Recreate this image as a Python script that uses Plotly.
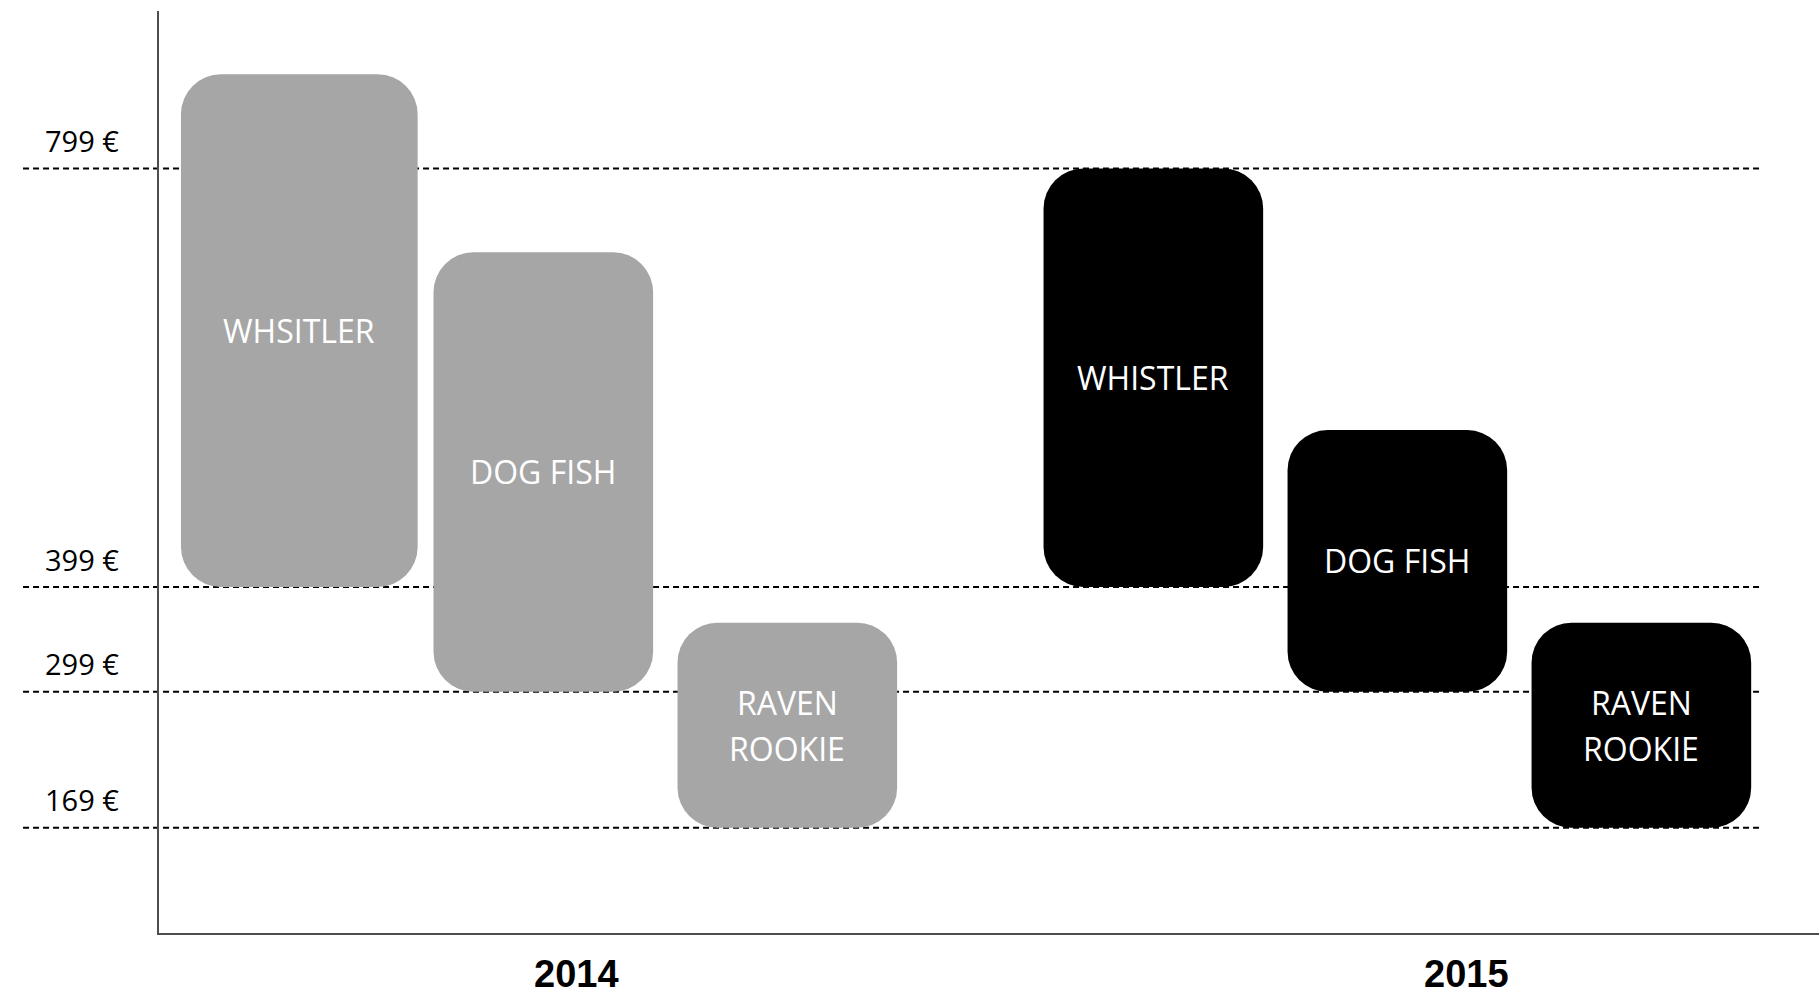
import plotly.graph_objects as go

# ---------------- data ----------------
years = ["2014", "2015"]
models_2014 = ["WHSITLER", "DOG FISH", "RAVEN<br>ROOKIE"]
models_2015 = ["WHISTLER", "DOG FISH", "RAVEN<br>ROOKIE"]
low_2014 = [399, 299, 169]
high_2014 = [889, 719, 365]
low_2015 = [399, 299, 169]
high_2015 = [799, 549, 365]
price_levels = [799, 399, 299, 169]
price_labels = ["799 €", "399 €", "299 €", "169 €"]

# ---------------- styling / layout ----------------
group_colors = ["#A6A6A6", "#000000"]
group_offset = 3.5
bar_widths = [[0.97, 0.9, 0.9], [0.9, 0.9, 0.9]]
radius = 40
axis_color = "#4d4d4d"
line_gap = 46  # px between lines of a two-line label

groups = [
    (models_2014, low_2014, high_2014),
    (models_2015, low_2015, high_2015),
]

fig = go.Figure()
annotations = []
for g, (names, lo, hi) in enumerate(groups):
    xs = [g * group_offset + i for i in range(len(names))]
    fig.add_trace(go.Bar(
        x=xs, base=lo, y=[h - l for h, l in zip(hi, lo)],
        width=bar_widths[g], marker=dict(color=group_colors[g], cornerradius=radius, line=dict(width=0)),
        hoverinfo="skip", showlegend=False,
    ))
    for xv, name, l, h in zip(xs, names, lo, hi):
        parts = name.split("<br>")
        n = len(parts)
        for k, part in enumerate(parts):
            annotations.append(dict(
                xref="x", yref="y", x=xv, y=(l + h) / 2, xanchor="center", yanchor="middle",
                yshift=((n - 1) / 2 - k) * line_gap, text=part, showarrow=False,
                font=dict(family="Open Sans", size=32, color="white")))

shapes = []
for v, lab in zip(price_levels, price_labels):
    shapes.append(dict(type="line", xref="paper", yref="y", x0=-0.0819, x1=0.9663, y0=v, y1=v,
                       line=dict(color="black", width=2, dash="6px,4px"), layer="below"))
    annotations.append(dict(xref="paper", yref="y", x=-0.0699, y=v, xanchor="left", yanchor="middle",
                            yshift=28, text=lab, showarrow=False,
                            font=dict(family="Open Sans", size=29, color="black")))

year_label_x = [1.135, 4.785]
for xv, yr in zip(year_label_x, years):
    annotations.append(dict(xref="x", yref="paper", x=xv, y=0, xanchor="center", yanchor="middle",
                            yshift=-41, text="<b>" + yr + "</b>", showarrow=False,
                            font=dict(family="Liberation Sans", size=38, color="black")))

fig.update_layout(
    width=1819, height=1002,
    margin=dict(l=159, r=0, t=11, b=69),
    barmode="overlay",
    plot_bgcolor="white", paper_bgcolor="white",
    shapes=shapes, annotations=annotations,
    xaxis=dict(range=[-0.575, 6.228], showgrid=False, zeroline=False, showticklabels=False,
               showline=True, linecolor=axis_color, linewidth=2, ticks=""),
    yaxis=dict(range=[68.4, 949.5], showgrid=False, zeroline=False, showticklabels=False,
               showline=True, linecolor=axis_color, linewidth=2, ticks=""),
)

fig.write_html("out.html", config={"displayModeBar": False},
               post_script="document.body.style.margin='0';document.body.style.overflow='hidden';")
